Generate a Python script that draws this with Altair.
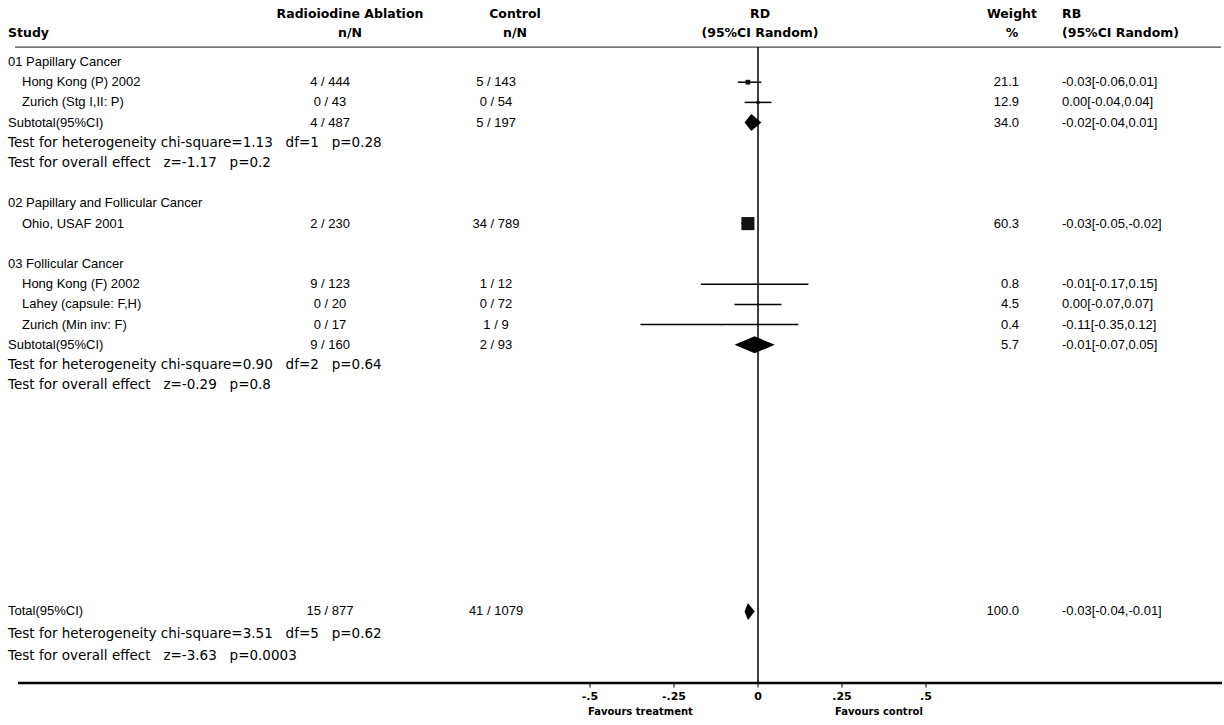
import altair as alt
import pandas as pd

# ---------------- data ----------------
studies = ["Hong Kong (P) 2002", "Zurich (Stg I,II: P)", "Ohio, USAF 2001",
           "Hong Kong (F) 2002", "Lahey (capsule: F,H)", "Zurich (Min inv: F)"]
study_rows = [1, 2, 8, 11, 12, 13]
treat_nN = ["4 / 444", "0 / 43", "2 / 230", "9 / 123", "0 / 20", "0 / 17"]
ctrl_nN = ["5 / 143", "0 / 54", "34 / 789", "1 / 12", "0 / 72", "1 / 9"]
rd = [-0.03, 0.00, -0.03, -0.01, 0.00, -0.11]
rd_lo = [-0.06, -0.04, -0.05, -0.17, -0.07, -0.35]
rd_hi = [0.01, 0.04, -0.02, 0.15, 0.07, 0.12]
weight = [21.1, 12.9, 60.3, 0.8, 4.5, 0.4]

sum_labels = ["Subtotal(95%CI)", "Subtotal(95%CI)", "Total(95%CI)"]
sum_rows = [3, 14, 27.2]
sum_treat = ["4 / 487", "9 / 160", "15 / 877"]
sum_ctrl = ["5 / 197", "2 / 93", "41 / 1079"]
sum_rd = [-0.02, -0.01, -0.03]
sum_lo = [-0.04, -0.07, -0.04]
sum_hi = [0.01, 0.05, -0.01]
sum_weight = [34.0, 5.7, 100.0]

groups = ["01 Papillary Cancer", "02 Papillary and Follicular Cancer", "03 Follicular Cancer"]
group_rows = [0, 7, 10]

NB = "\u00a0\u00a0\u00a0"
tests = [f"Test for heterogeneity chi-square=1.13{NB}df=1{NB}p=0.28",
         f"Test for overall effect{NB}z=-1.17{NB}p=0.2",
         f"Test for heterogeneity chi-square=0.90{NB}df=2{NB}p=0.64",
         f"Test for overall effect{NB}z=-0.29{NB}p=0.8",
         f"Test for heterogeneity chi-square=3.51{NB}df=5{NB}p=0.62",
         f"Test for overall effect{NB}z=-3.63{NB}p=0.0003"]
test_rows = [4, 5, 15, 16, 28.3, 29.4]

tick_vals = [-0.5, -0.25, 0, 0.25, 0.5]
tick_labels = ["-.5", "-.25", "0", ".25", ".5"]
favour_labels = ["Favours treatment", "Favours control"]
favour_pos = [-0.35, 0.36]

# ---------------- layout ----------------
W, H = 1224, 725
X0 = 758          # pixel of RD = 0
PXU = 336         # pixels per RD unit
XS = alt.Scale(domain=[-X0 / PXU, (W - X0) / PXU])
ROW0, ROWH = 62, 20.2
YS = alt.Scale(domain=[-ROW0 / ROWH, (H - ROW0) / ROWH], reverse=True)
HDR1, HDR2, HLINE, BLINE, TICKROW, FAVROW = -2.38, -1.44, -0.74, 30.74, 31.45, 32.2

FONT = "Liberation Sans"
WIDE = "DejaVu Sans"
BOLD = "DejaVu Sans"

def fmt(v):
    return f"{v:.2f}"

st = pd.DataFrame({"name": studies, "row": study_rows, "t": treat_nN, "c": ctrl_nN,
                   "rd": rd, "lo": rd_lo, "hi": rd_hi, "w": weight})
st["wt"] = [f"{w:.1f}" for w in weight]
st["ci"] = [f"{fmt(a)}[{fmt(b)},{fmt(c)}]" for a, b, c in zip(rd, rd_lo, rd_hi)]

sm = pd.DataFrame({"name": sum_labels, "row": sum_rows, "t": sum_treat, "c": sum_ctrl,
                   "rd": sum_rd, "lo": sum_lo, "hi": sum_hi, "w": sum_weight})
sm["wt"] = [f"{w:.1f}" for w in sum_weight]
sm["ci"] = [f"{fmt(a)}[{fmt(b)},{fmt(c)}]" for a, b, c in zip(sum_rd, sum_lo, sum_hi)]

# diamond polygons
dia = []
for i, r in sm.iterrows():
    dia.append({"g": i, "x": r["lo"], "y": r["row"], "y2": r["row"]})
    dia.append({"g": i, "x": r["rd"], "y": r["row"] - 0.42, "y2": r["row"] + 0.42})
    dia.append({"g": i, "x": r["hi"], "y": r["row"], "y2": r["row"]})
dia = pd.DataFrame(dia)

gr = pd.DataFrame({"name": groups, "row": group_rows})
ts = pd.DataFrame({"name": tests, "row": test_rows})

hdr = pd.DataFrame({
    "txt": ["Study", "Radioiodine Ablation", "n/N", "Control", "n/N", "RD", "(95%CI Random)",
            "Weight", "%", "RB", "(95%CI Random)"],
    "row": [HDR2, HDR1, HDR2, HDR1, HDR2, HDR1, HDR2, HDR1, HDR2, HDR1, HDR2],
    "px": [8, 350, 350, 515, 515, 760, 760, 1012, 1012, 1062, 1062],
    "al": ["left", "center", "center", "center", "center", "center", "center",
           "center", "center", "left", "left"],
})

ticks = pd.DataFrame({"v": tick_vals, "lab": tick_labels, "row": TICKROW})
fav = pd.DataFrame({"v": favour_pos, "lab": favour_labels, "row": FAVROW})

def ytxt():
    return alt.Y("row:Q", scale=YS, axis=None)

layers = []

# headers
for al in ["left", "center"]:
    layers.append(alt.Chart(hdr[hdr.al == al]).mark_text(
        align=al, baseline="middle", font=BOLD, fontWeight="bold", fontSize=12.5, color="#000"
    ).encode(x=alt.X("px:Q", scale=None, axis=None), y=ytxt(), text="txt:N"))

# header line and bottom line
layers.append(alt.Chart(pd.DataFrame({"row": [HLINE]})).mark_rule(color="#444", strokeWidth=1.2).encode(
    x=alt.value(15), x2=alt.value(1221), y=alt.Y("row:Q", scale=YS, axis=None)))
layers.append(alt.Chart(pd.DataFrame({"row": [BLINE]})).mark_rule(color="#000", strokeWidth=2.5).encode(
    x=alt.value(18), x2=alt.value(1222), y=alt.Y("row:Q", scale=YS, axis=None)))

# vertical null line
layers.append(alt.Chart(pd.DataFrame({"v": [0], "r1": [HLINE], "r2": [BLINE]})).mark_rule(
    color="#000", strokeWidth=1.5).encode(
    x=alt.X("v:Q", scale=XS, axis=None), y=alt.Y("r1:Q", scale=YS, axis=None), y2="r2:Q"))

# group headings
layers.append(alt.Chart(gr).mark_text(align="left", baseline="middle", font=FONT, fontSize=13, color="#000")
              .encode(x=alt.value(8), y=ytxt(), text="name:N"))
# tests
layers.append(alt.Chart(ts).mark_text(align="left", baseline="middle", font=WIDE, fontSize=13.5, color="#000")
              .encode(x=alt.value(8), y=ytxt(), text="name:N"))

# study + summary text columns
for df, namex in [(st, 22), (sm, 8)]:
    layers.append(alt.Chart(df).mark_text(align="left", baseline="middle", font=FONT, fontSize=13, color="#000")
                  .encode(x=alt.value(namex), y=ytxt(), text="name:N"))
    layers.append(alt.Chart(df).mark_text(align="center", baseline="middle", font=FONT, fontSize=13, color="#000")
                  .encode(x=alt.value(330), y=ytxt(), text="t:N"))
    layers.append(alt.Chart(df).mark_text(align="center", baseline="middle", font=FONT, fontSize=13, color="#000")
                  .encode(x=alt.value(496), y=ytxt(), text="c:N"))
    layers.append(alt.Chart(df).mark_text(align="right", baseline="middle", font=FONT, fontSize=13, color="#000")
                  .encode(x=alt.value(1019), y=ytxt(), text="wt:N"))
    layers.append(alt.Chart(df).mark_text(align="left", baseline="middle", font=FONT, fontSize=13, color="#000")
                  .encode(x=alt.value(1062), y=ytxt(), text="ci:N"))

# CI lines
layers.append(alt.Chart(st).mark_rule(color="#000", strokeWidth=1.5).encode(
    x=alt.X("lo:Q", scale=XS, axis=None), x2="hi:Q", y=alt.Y("row:Q", scale=YS, axis=None)))
# squares
layers.append(alt.Chart(st).mark_square(color="#111", opacity=1, filled=True).encode(
    x=alt.X("rd:Q", scale=XS, axis=None), y=alt.Y("row:Q", scale=YS, axis=None),
    size=alt.Size("w:Q", scale=alt.Scale(type="pow", exponent=2, domain=[0, 60.3], range=[2, 170]),
                  legend=None)))
# diamonds
layers.append(alt.Chart(dia).mark_area(color="#000", opacity=1, orient="vertical").encode(
    x=alt.X("x:Q", scale=XS, axis=None), y=alt.Y("y:Q", scale=YS, axis=None), y2="y2:Q",
    detail="g:N"))

# axis ticks and labels
layers.append(alt.Chart(ticks).mark_tick(color="#000", thickness=1.5, size=5, orient="vertical").encode(
    x=alt.X("v:Q", scale=XS, axis=None), y=alt.value(685)))
layers.append(alt.Chart(ticks).mark_text(align="center", baseline="middle", font=BOLD, fontWeight="bold",
                                          fontSize=11, color="#000").encode(
    x=alt.X("v:Q", scale=XS, axis=None), y=alt.Y("row:Q", scale=YS, axis=None), text="lab:N"))
layers.append(alt.Chart(fav).mark_text(align="center", baseline="middle", font=BOLD, fontWeight="bold",
                                        fontSize=10, color="#000").encode(
    x=alt.X("v:Q", scale=XS, axis=None), y=alt.Y("row:Q", scale=YS, axis=None), text="lab:N"))

chart = alt.layer(*layers).properties(
    width=W, height=H, padding=0, autosize="none", background="white"
).configure_view(stroke=None)

chart.save("out.html", embed_options={"renderer": "svg", "actions": False})
